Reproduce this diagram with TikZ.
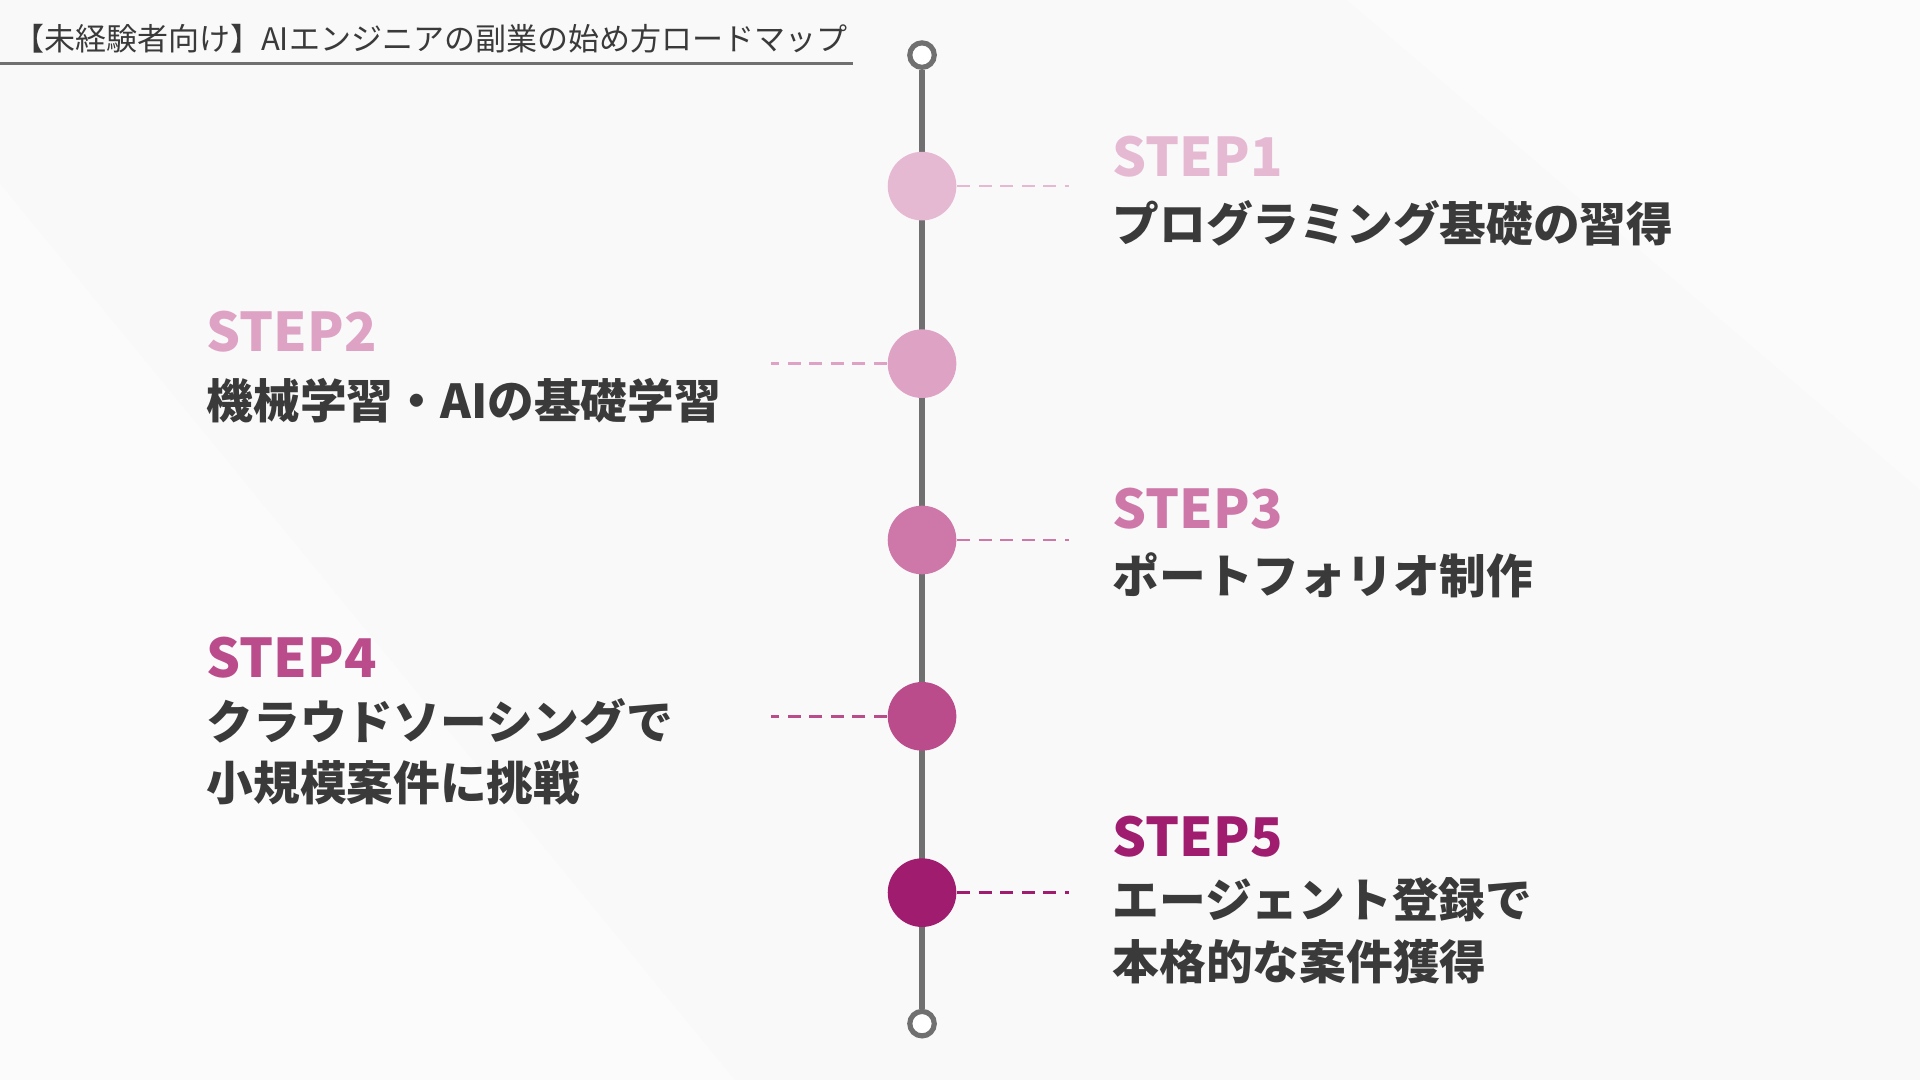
\documentclass[tikz,border=0pt]{standalone}
\usepackage{fontspec}
\newfontfamily\jp{Noto Sans CJK JP}
\definecolor{c1}{HTML}{E6B9D3}
\definecolor{c2}{HTML}{DDA2C4}
\definecolor{c3}{HTML}{CE78AA}
\definecolor{c4}{HTML}{BA4C8C}
\definecolor{c5}{HTML}{A01C6E}
\definecolor{txt}{HTML}{3A3A3A}
\definecolor{ln}{HTML}{707070}
\begin{document}
\begin{tikzpicture}[x=0.01cm,y=-0.01cm,
  dot/.style={circle,minimum size=0.56cm,inner sep=0pt},
  stp/.style={font=\jp\bfseries\fontsize{12.4}{13}\selectfont,inner sep=0pt},
  lbl/.style={font=\jp\bfseries\fontsize{10.85}{14.3}\selectfont,text=txt,inner sep=0pt,align=left},
  dsh/.style={dashed,dash pattern=on 3pt off 2pt,line width=0.6pt}]
\fill[white!95!gray] (0,0) rectangle (1568,882);
\fill[white,opacity=0.35] (0,150) -- (600,882) -- (0,882) -- cycle;
\fill[white,opacity=0.35] (1100,0) -- (1568,400) -- (1568,0) -- cycle;
\useasboundingbox (0,0) rectangle (1568,882);
\node[anchor=west,inner sep=0pt,text=txt,font=\jp\fontsize{7.2}{8}\selectfont] (title) at (10,32) {【未経験者向け】AIエンジニアの副業の始め方ロードマップ};
\draw[ln,line width=0.8pt] (0,52) -- (697,52);
\node[circle,draw=ln,line width=1.2pt,fill=white,minimum size=0.2cm,inner sep=0pt] (top) at (753,45) {};
\node[circle,draw=ln,line width=1.2pt,fill=white,minimum size=0.2cm,inner sep=0pt] (bot) at (753,836) {};
\draw[ln,line width=1.6pt] (top) -- (bot);
\node[dot,fill=c1] (d1) at (753,152) {};
\node[dot,fill=c2] (d2) at (753,297) {};
\node[dot,fill=c3] (d3) at (753,441) {};
\node[dot,fill=c4] (d4) at (753,585) {};
\node[dot,fill=c5] (d5) at (753,729) {};
\coordinate (e1) at (873,152); \coordinate (e2) at (630,297);
\coordinate (e3) at (873,441); \coordinate (e4) at (630,585);
\coordinate (e5) at (873,729);
\draw[dsh,c1] (d1) -- (e1);
\draw[dsh,c2] (d2) -- (e2);
\draw[dsh,c3] (d3) -- (e3);
\draw[dsh,c4] (d4) -- (e4);
\draw[dsh,c5] (d5) -- (e5);
\node[stp,anchor=west,text=c1] (s1) at (908,128) {STEP1};
\node[lbl,anchor=west] (t1) at (908,182) {プログラミング基礎の習得};
\node[stp,anchor=west,text=c2] (s2) at (168,271) {STEP2};
\node[lbl,anchor=west] (t2) at (168,327) {機械学習・AIの基礎学習};
\node[stp,anchor=west,text=c3] (s3) at (908,415) {STEP3};
\node[lbl,anchor=west] (t3) at (908,470) {ポートフォリオ制作};
\node[stp,anchor=west,text=c4] (s4) at (168,537) {STEP4};
\node[lbl,anchor=west] (t4) at (168,614) {クラウドソーシングで\\小規模案件に挑戦};
\node[stp,anchor=west,text=c5] (s5) at (908,683) {STEP5};
\node[lbl,anchor=west] (t5) at (908,760) {エージェント登録で\\本格的な案件獲得};
\end{tikzpicture}
\end{document}
